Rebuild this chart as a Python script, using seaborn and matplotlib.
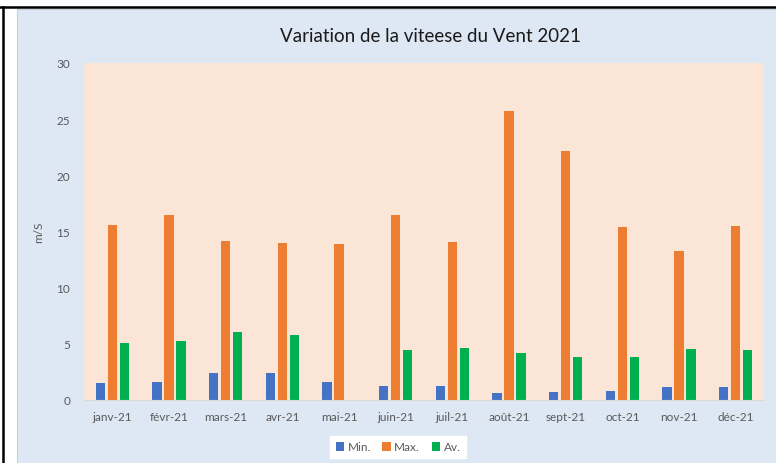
import pandas as pd
import matplotlib.pyplot as plt
import seaborn as sns
from matplotlib.lines import Line2D
from matplotlib.patches import Rectangle

# Données
mois = ['janv-21', 'févr-21', 'mars-21', 'avr-21', 'mai-21', 'juin-21',
        'juil-21', 'août-21', 'sept-21', 'oct-21', 'nov-21', 'déc-21']
v_min = [1.5, 1.57, 2.38, 2.38, 1.57, 1.27, 1.27, 0.6, 0.68, 0.77, 1.18, 1.18]
v_max = [15.6, 16.5, 14.15, 13.95, 13.85, 16.5, 14.05, 25.75, 22.2, 15.42, 13.27, 15.52]
v_av = [5.05, 5.25, 6.03, 5.82, 0.0, 4.45, 4.63, 4.16, 3.86, 3.86, 4.54, 4.45]
series = ['Min.', 'Max.', 'Av.']
couleurs = ['#4472C4', '#ED7D31', '#00B050']

df = pd.DataFrame({
    'Mois': mois * 3,
    'Vitesse': v_min + v_max + v_av,
    'Série': [s for s in series for _ in mois],
})

fig = plt.figure(figsize=(7.76, 4.64), dpi=100)
fig.patch.set_facecolor('white')

# fond bleu de la zone du graphique
fig.add_artist(Rectangle((17 / 776, 0), 1, 1 - 10 / 464, transform=fig.transFigure,
                         facecolor='#DEE8F4', edgecolor='#C8CED6', linewidth=0.8, zorder=0))
# traits noirs de la cellule
fig.add_artist(Line2D([0, 1], [1 - 8 / 464, 1 - 8 / 464], transform=fig.transFigure,
                      color='black', linewidth=1.8))
fig.add_artist(Line2D([3 / 776, 3 / 776], [0, 1 - 8 / 464], transform=fig.transFigure,
                      color='black', linewidth=1.8))

ax = fig.add_axes([84 / 776, 1 - 401 / 464, (764 - 84) / 776, (401 - 64) / 464])
ax.set_facecolor('#FBE5D6')

sns.barplot(data=df, x='Mois', y='Vitesse', hue='Série', palette=couleurs,
            width=0.64, gap=0.22, saturation=1, linewidth=0, ax=ax, legend=False)

ax.set_ylim(0, 30)
ax.set_yticks([0, 5, 10, 15, 20, 25, 30])
ax.set_xlim(-0.5, len(mois) - 0.5)
for s in ['top', 'right', 'left']:
    ax.spines[s].set_visible(False)
ax.spines['bottom'].set_color('#D9D9D9')
ax.tick_params(axis='both', length=0, colors='#595959', labelsize=8.5)
for lab in ax.get_xticklabels() + ax.get_yticklabels():
    lab.set_family('Lato')
ax.tick_params(axis='x', pad=8)
ax.tick_params(axis='y', pad=10)
ax.set_xlabel('')
ax.set_ylabel('m/S', color='#595959', fontsize=8.5, family='Lato')
ax.yaxis.set_label_coords(-0.059, 0.5)

fig.text(0.555, 1 - 37 / 464, 'Variation de la viteese du Vent 2021', ha='center', va='center',
         fontsize=13.5, family='Lato', color='#1A1A1A')

handles = [Rectangle((0, 0), 1, 1, facecolor=c) for c in couleurs]
fig.legend(handles, series, loc='center', bbox_to_anchor=(398 / 776, 1 - 448 / 464),
           ncol=3, frameon=True, fancybox=False, facecolor='white', edgecolor='white',
           framealpha=1, handlelength=0.7, handleheight=0.7, handletextpad=0.3,
           columnspacing=1.0, borderpad=0.5,
           prop={'family': 'Lato', 'size': 8.5}, labelcolor='#595959')

fig.savefig('out.png', dpi=100)
